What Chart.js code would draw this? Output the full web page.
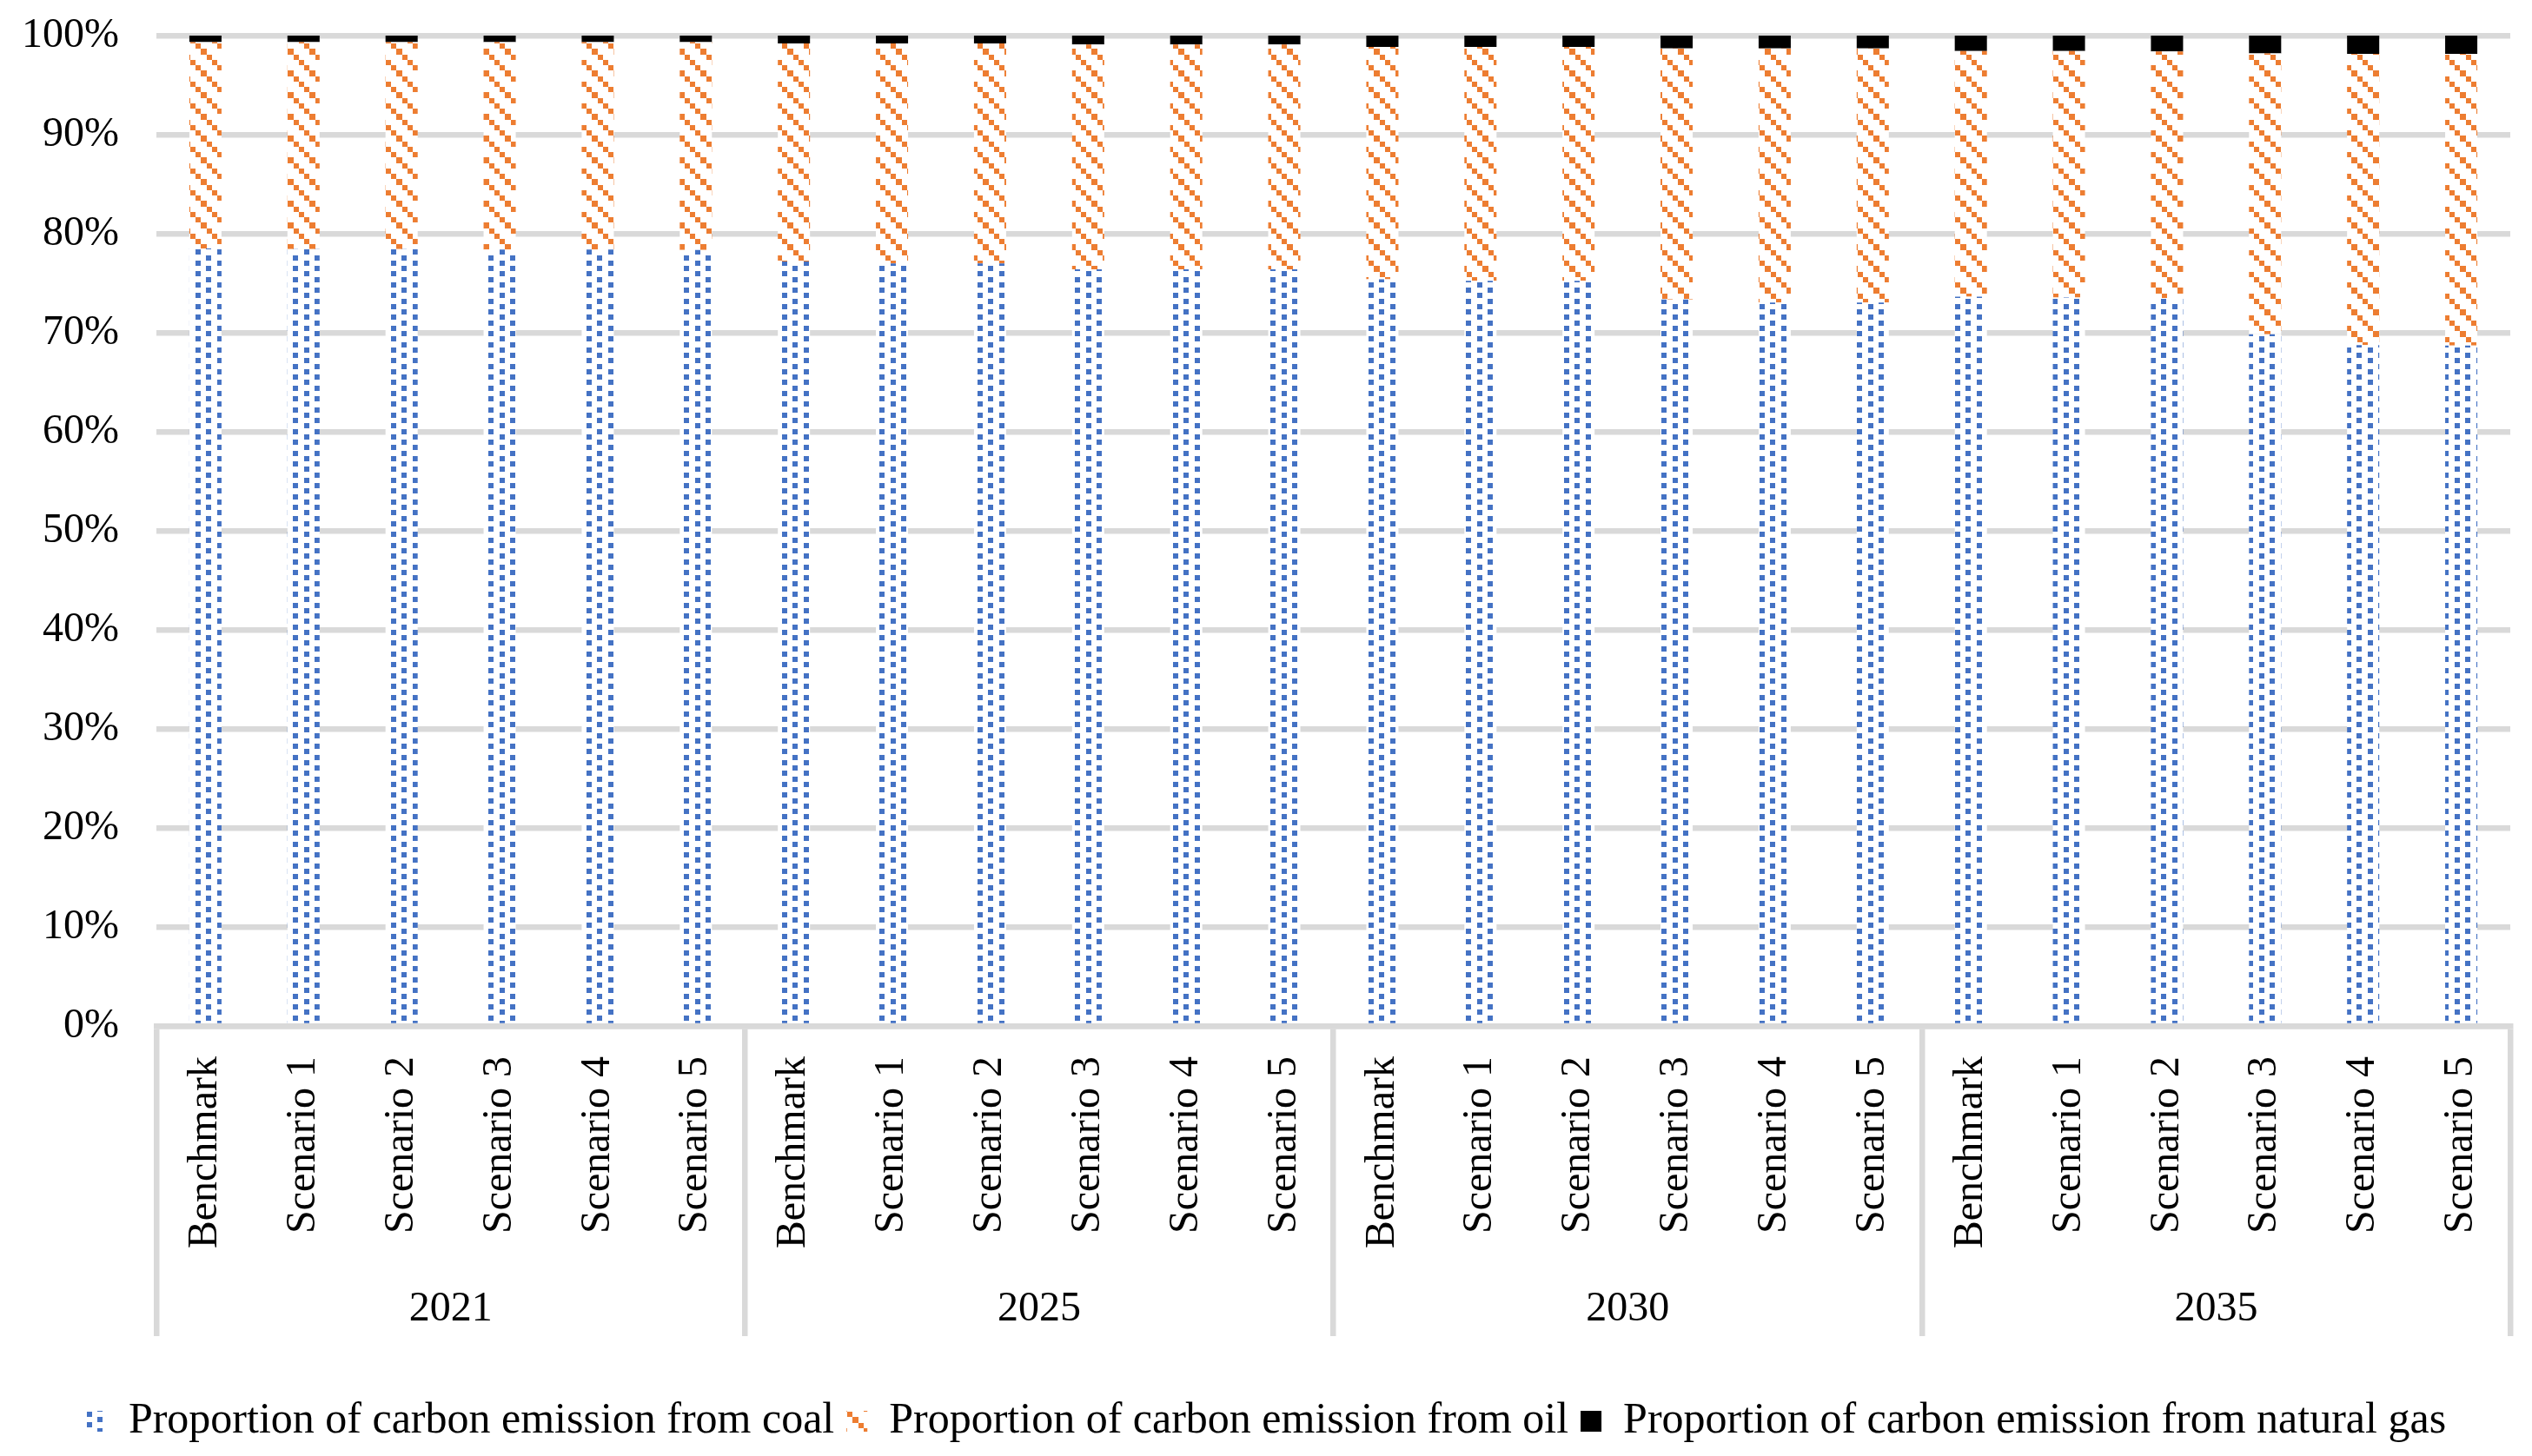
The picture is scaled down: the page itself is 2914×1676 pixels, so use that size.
<!DOCTYPE html>
<html>
<head>
<meta charset="utf-8">
<script src="https://cdn.jsdelivr.net/npm/chart.js@4"></script>
<style>
  html, body { margin: 0; padding: 0; background: #ffffff; }
  #wrap { width: 2914px; height: 1676px; }
</style>
</head>
<body>
<div id="wrap"><canvas id="c" width="2914" height="1676"></canvas></div>
<script>
// ---- data ----
const scenarios = ['Benchmark', 'Scenario 1', 'Scenario 2', 'Scenario 3', 'Scenario 4', 'Scenario 5'];
const years = ['2021', '2025', '2030', '2035'];
const categories = [
  'Benchmark', 'Scenario 1', 'Scenario 2', 'Scenario 3', 'Scenario 4', 'Scenario 5',
  'Benchmark', 'Scenario 1', 'Scenario 2', 'Scenario 3', 'Scenario 4', 'Scenario 5',
  'Benchmark', 'Scenario 1', 'Scenario 2', 'Scenario 3', 'Scenario 4', 'Scenario 5',
  'Benchmark', 'Scenario 1', 'Scenario 2', 'Scenario 3', 'Scenario 4', 'Scenario 5'
];
const coalShare = [
  78.5, 78.45, 78.45, 78.4, 78.4, 78.35,
  77.2, 77.0, 77.0, 76.4, 76.4, 76.4,
  75.4, 75.25, 75.25, 73.35, 73.05, 73.05,
  73.65, 73.55, 73.5, 69.85, 68.75, 68.7
];
const oilShare = [
  20.85, 20.9, 20.9, 20.95, 20.95, 21.0,
  22.0, 22.2, 22.2, 22.7, 22.7, 22.7,
  23.45, 23.6, 23.6, 25.35, 25.65, 25.65,
  24.8, 24.9, 24.9, 28.35, 29.4, 29.45
];
const gasShare = [
  0.65, 0.65, 0.65, 0.65, 0.65, 0.65,
  0.8, 0.8, 0.8, 0.9, 0.9, 0.9,
  1.15, 1.15, 1.15, 1.3, 1.3, 1.3,
  1.55, 1.55, 1.6, 1.8, 1.85, 1.85
];
const yTicks = [0, 10, 20, 30, 40, 50, 60, 70, 80, 90, 100];
const seriesNames = [
  'Proportion of carbon emission from coal',
  'Proportion of carbon emission from oil',
  'Proportion of carbon emission from natural gas'
];

// ---- styles ----
const FONT = 'Liberation Serif';
const GRID = '#d9d9d9';
const BLUE = '#4472C4';
const ORANGE = '#ED7D31';

function makeTile(draw) {
  const t = document.createElement('canvas');
  t.width = 25; t.height = 25;
  const g = t.getContext('2d');
  g.fillStyle = '#ffffff';
  g.fillRect(0, 0, 25, 25);
  draw(g);
  return document.getElementById('c').getContext('2d').createPattern(t, 'repeat');
}
const coalPattern = makeTile(g => {
  g.fillStyle = BLUE;
  g.fillRect(0, 0, 6, 6);
  g.fillRect(0, 12, 6, 6);
  g.fillRect(12, 6, 6, 6);
  g.fillRect(12, 19, 6, 6);
});
const oilPattern = makeTile(g => {
  g.fillStyle = ORANGE;
  g.fillRect(0, 0, 6, 6);
  g.fillRect(6, 6, 7, 7);
  g.fillRect(13, 13, 6, 6);
  g.fillRect(19, 19, 6, 6);
});

const groupSize = scenarios.length;

new Chart(document.getElementById('c'), {
  type: 'bar',
  data: {
    labels: categories,
    datasets: [
      { label: seriesNames[0], data: coalShare, backgroundColor: coalPattern, borderWidth: 0 },
      { label: seriesNames[1], data: oilShare, backgroundColor: oilPattern, borderWidth: 0 },
      { label: seriesNames[2], data: gasShare, backgroundColor: '#000000', borderWidth: 0 }
    ]
  },
  options: {
    responsive: false,
    devicePixelRatio: 1,
    animation: false,
    datasets: { bar: { categoryPercentage: 1.0, barPercentage: 0.328 } },
    layout: { padding: { left: 25, right: 25, top: 41, bottom: 5 } },
    plugins: {
      tooltip: { enabled: false },
      legend: {
        position: 'bottom',
        labels: {
          font: { family: FONT, size: 50 },
          color: '#000000',
          boxWidth: 24,
          boxHeight: 24,
          padding: 14
        }
      }
    },
    scales: {
      x: {
        stacked: true,
        weight: 0,
        offset: true,
        afterFit: (s) => { s.height = 260; s.paddingLeft = 0; s.paddingRight = 0; },
        grid: {
          offset: true,
          drawOnChartArea: false,
          drawTicks: true,
          tickLength: 357,
          lineWidth: 6.5,
          color: (c) => (c.index === undefined || c.index % groupSize === 0) ? GRID : 'rgba(0,0,0,0)'
        },
        border: { display: true, color: GRID, width: 6.5 },
        ticks: {
          autoSkip: false,
          minRotation: 90,
          maxRotation: 90,
          padding: -322,
          color: '#000000',
          font: { family: FONT, size: 48 }
        }
      },
      x2: {
        type: 'category',
        labels: years,
        position: 'bottom',
        weight: 1,
        offset: true,
        afterFit: (s) => { s.height = 156; s.paddingLeft = 0; s.paddingRight = 0; },
        grid: { display: false, drawTicks: false },
        border: { display: false },
        ticks: {
          padding: 38,
          maxRotation: 0,
          color: '#000000',
          font: { family: FONT, size: 48 }
        }
      },
      y: {
        stacked: true,
        min: 0,
        max: 100,
        afterBuildTicks: (s) => { s.ticks = yTicks.map(v => ({ value: v })); },
        afterFit: (s) => { s.width = 155; s.paddingTop = 0; s.paddingBottom = 0; },
        grid: { color: GRID, lineWidth: 6.5, drawTicks: false },
        border: { display: false },
        ticks: {
          padding: 43,
          color: '#000000',
          font: { family: FONT, size: 48 },
          callback: (v) => v + '%'
        }
      }
    }
  }
});
</script>
</body>
</html>
